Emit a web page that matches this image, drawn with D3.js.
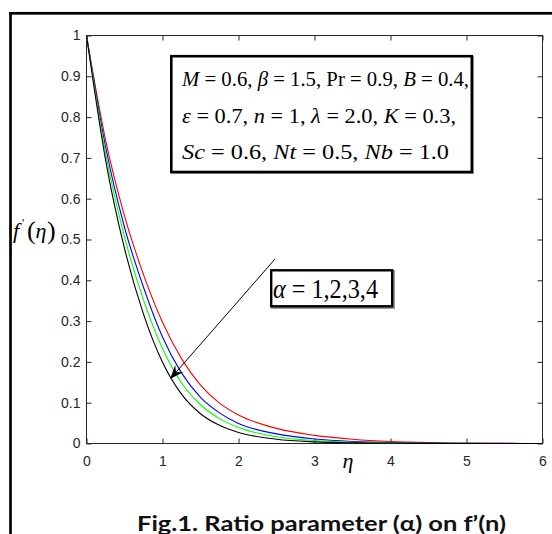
<!DOCTYPE html>
<html lang="en">
<head>
<meta charset="UTF-8">
<title>Ratio parameter on f'(eta)</title>
<script src="https://d3js.org/d3.v7.min.js"></script>
<style>
    body { margin: 0; background: #fff; }
    svg { display: block; }
    .tick line { stroke: #262626; }
    .serif { font-family: "Liberation Serif", "Times New Roman", serif; white-space: pre; }
</style>
</head>
<body>
<svg id="chart" width="552" height="534"></svg>
<script>
// eta grid and f'(eta) values, one list per alpha
const eta     = [0, 0.25, 0.5, 0.75, 1, 1.25, 1.5, 1.75, 2, 2.5, 3, 3.5, 4, 4.5, 5, 5.5, 6];
const fAlpha1 = [1, 0.745, 0.558, 0.414, 0.297, 0.208, 0.143, 0.099, 0.070, 0.037, 0.020, 0.0106, 0.005, 0.0022, 0.0009, 0.0003, 0.0001];
const fAlpha2 = [1, 0.728, 0.530, 0.383, 0.261, 0.173, 0.113, 0.075, 0.049, 0.0235, 0.011, 0.005, 0.0022, 0.001, 0.0004, 0.0002, 0.0001];
const fAlpha3 = [1, 0.712, 0.507, 0.352, 0.233, 0.149, 0.095, 0.061, 0.039, 0.0167, 0.0072, 0.003, 0.0012, 0.0005, 0.0002, 0.0001, 0];
const fAlpha4 = [1, 0.696, 0.478, 0.317, 0.199, 0.121, 0.073, 0.0445, 0.027, 0.0104, 0.004, 0.0015, 0.0006, 0.0002, 0.0001, 0, 0];
const seriesColors = ["#ff0000", "#0000ff", "#00ff00", "#000000"];

const xTicks = [0, 1, 2, 3, 4, 5, 6];
const yTicks = [0, 0.1, 0.2, 0.3, 0.4, 0.5, 0.6, 0.7, 0.8, 0.9, 1];
const yTickLabels = ["0", "0.1", "0.2", "0.3", "0.4", "0.5", "0.6", "0.7", "0.8", "0.9", "1"];

// parameter box text, [text, italic]
const paramLines = [
    [["M", true], [" = 0.6, ", false], ["β", true], [" = 1.5, Pr = 0.9, ", false], ["B", true], [" = 0.4,", false]],
    [["ε", true], [" = 0.7, ", false], ["n", true], [" = 1, ", false], ["λ", true], [" = 2.0, ", false], ["K", true], [" = 0.3,", false]],
    [["Sc", true], [" = 0.6, ", false], ["Nt", true], [" = 0.5, ", false], ["Nb", true], [" = 1.0", false]]
];
const alphaLabel = [["α", true], [" = 1,2,3,4", false]];
// arrow in data units: from near the alpha box to the alpha = 4 curve
const arrowFrom = [2.48, 0.452];
const arrowTo = [1.1, 0.158];
const title = "Fig.1. Ratio parameter (α) on f’(n)";

const svg = d3.select("#chart");

// outer figure frame (runs off the right and bottom of the picture)
svg.append("rect")
    .attr("x", 10.5).attr("y", 13.3)
    .attr("width", 700).attr("height", 700)
    .attr("fill", "none").attr("stroke", "#000").attr("stroke-width", 2.7);

const x = d3.scaleLinear().domain([0, 6]).range([86.5, 542.5]);
const y = d3.scaleLinear().domain([0, 1]).range([443.5, 35.5]);

// tick label font, set on the axis groups after the axis call
function tickFont(g) {
    g.attr("font-family", "'Liberation Sans', Arial, sans-serif")
        .attr("font-size", 14);
    g.selectAll(".tick text").attr("fill", "#262626");
    g.select(".domain").remove();
}

// axes, MATLAB style with inward ticks on all four sides
svg.append("g")
    .attr("transform", `translate(0,${y(0)})`)
    .call(d3.axisBottom(x).tickValues(xTicks).tickFormat(d3.format("d"))
        .tickSizeInner(-5).tickSizeOuter(0).tickPadding(13))
    .call(tickFont);
svg.append("g")
    .attr("transform", `translate(0,${y(1)})`)
    .call(d3.axisTop(x).tickValues(xTicks).tickFormat("")
        .tickSizeInner(-5).tickSizeOuter(0))
    .call(tickFont);
svg.append("g")
    .attr("transform", `translate(${x(0)},0)`)
    .call(d3.axisLeft(y).tickValues(yTicks).tickFormat((d, i) => yTickLabels[i])
        .tickSizeInner(-5).tickSizeOuter(0).tickPadding(6))
    .call(tickFont);
svg.append("g")
    .attr("transform", `translate(${x(6)},0)`)
    .call(d3.axisRight(y).tickValues(yTicks).tickFormat("")
        .tickSizeInner(-5).tickSizeOuter(0))
    .call(tickFont);

svg.append("rect")
    .attr("x", x(0)).attr("y", y(1))
    .attr("width", x(6) - x(0)).attr("height", y(0) - y(1))
    .attr("fill", "none").attr("stroke", "#262626").attr("stroke-width", 1);

// curves
const series = [fAlpha1, fAlpha2, fAlpha3, fAlpha4];
const line = d3.line()
    .x((d, i) => x(eta[i]))
    .y(d => y(d))
    .curve(d3.curveMonotoneX);

svg.append("g")
    .selectAll("path")
    .data(series)
    .join("path")
    .attr("d", line)
    .attr("fill", "none")
    .attr("stroke", (d, i) => seriesColors[i])
    .attr("stroke-width", 1.1);

// helper for math-style text
function mathText(sel, parts, size) {
    parts.forEach(p => {
        sel.append("tspan")
            .attr("font-style", p[1] ? "italic" : "normal")
            .text(p[0]);
    });
    sel.attr("font-size", size);
}

// parameter box
svg.append("rect")
    .attr("x", 172).attr("y", 57).attr("width", 301).attr("height", 116)
    .attr("fill", "none").attr("stroke", "#999").attr("stroke-width", 2);
svg.append("rect")
    .attr("x", 171.3).attr("y", 56.2).attr("width", 300.5).attr("height", 115.8)
    .attr("fill", "#fff").attr("stroke", "#000").attr("stroke-width", 2.6);
const lineEnds = [469, 456, 449];
paramLines.forEach((parts, i) => {
    const t = svg.append("text")
        .attr("class", "serif")
        .attr("x", 182)
        .attr("y", 86 + i * 36.5)
        .attr("fill", "#000")
        .attr("textLength", lineEnds[i] - 182)
        .attr("lengthAdjust", "spacingAndGlyphs");
    mathText(t, parts, 20);
});

// arrow
const ax0 = x(arrowFrom[0]), ay0 = y(arrowFrom[1]);
const ax1 = x(arrowTo[0]), ay1 = y(arrowTo[1]);
const len = Math.hypot(ax1 - ax0, ay1 - ay0);
const ux = (ax1 - ax0) / len, uy = (ay1 - ay0) / len;
const px = -uy, py = ux;
const headLen = 14, headHalf = 5.5, notch = 9;
svg.append("line")
    .attr("x1", ax0).attr("y1", ay0)
    .attr("x2", ax1 - ux * notch).attr("y2", ay1 - uy * notch)
    .attr("stroke", "#000").attr("stroke-width", 1);
svg.append("path")
    .attr("d", "M" + [ax1, ay1] +
        "L" + [ax1 - ux * headLen + px * headHalf, ay1 - uy * headLen + py * headHalf] +
        "L" + [ax1 - ux * notch, ay1 - uy * notch] +
        "L" + [ax1 - ux * headLen - px * headHalf, ay1 - uy * headLen - py * headHalf] + "Z")
    .attr("fill", "#000");

// alpha box
svg.append("rect")
    .attr("x", 272).attr("y", 271).attr("width", 122).attr("height", 37)
    .attr("fill", "none").attr("stroke", "#999").attr("stroke-width", 2);
svg.append("rect")
    .attr("x", 271.2).attr("y", 270.3).attr("width", 121).attr("height", 36)
    .attr("fill", "#fff").attr("stroke", "#000").attr("stroke-width", 2.4);
const at = svg.append("text")
    .attr("class", "serif")
    .attr("x", 273).attr("y", 298)
    .attr("textLength", 105)
    .attr("lengthAdjust", "spacingAndGlyphs");
mathText(at, alphaLabel, 28);

// axis labels
svg.append("text")
    .attr("class", "serif")
    .attr("x", 348).attr("y", 468)
    .attr("text-anchor", "middle")
    .attr("font-style", "italic")
    .attr("font-size", 22)
    .text("η");

const yl = svg.append("g").attr("class", "serif");
yl.append("text").attr("x", 13).attr("y", 238).attr("font-size", 22).attr("font-style", "italic").text("f");
yl.append("text").attr("x", 22).attr("y", 227).attr("font-size", 12).text("'");
yl.append("text").attr("x", 27).attr("y", 239).attr("font-size", 26).text("(");
yl.append("text").attr("x", 35.5).attr("y", 238).attr("font-size", 22).attr("font-style", "italic").text("η");
yl.append("text").attr("x", 47).attr("y", 239).attr("font-size", 26).text(")");

// caption
svg.append("text")
    .attr("x", 137).attr("y", 531)
    .attr("font-family", "Lato, 'Open Sans', sans-serif")
    .attr("font-weight", "bold")
    .attr("font-size", 20)
    .attr("fill", "#111")
    .attr("textLength", 369)
    .attr("lengthAdjust", "spacingAndGlyphs")
    .text(title);
</script>
</body>
</html>
